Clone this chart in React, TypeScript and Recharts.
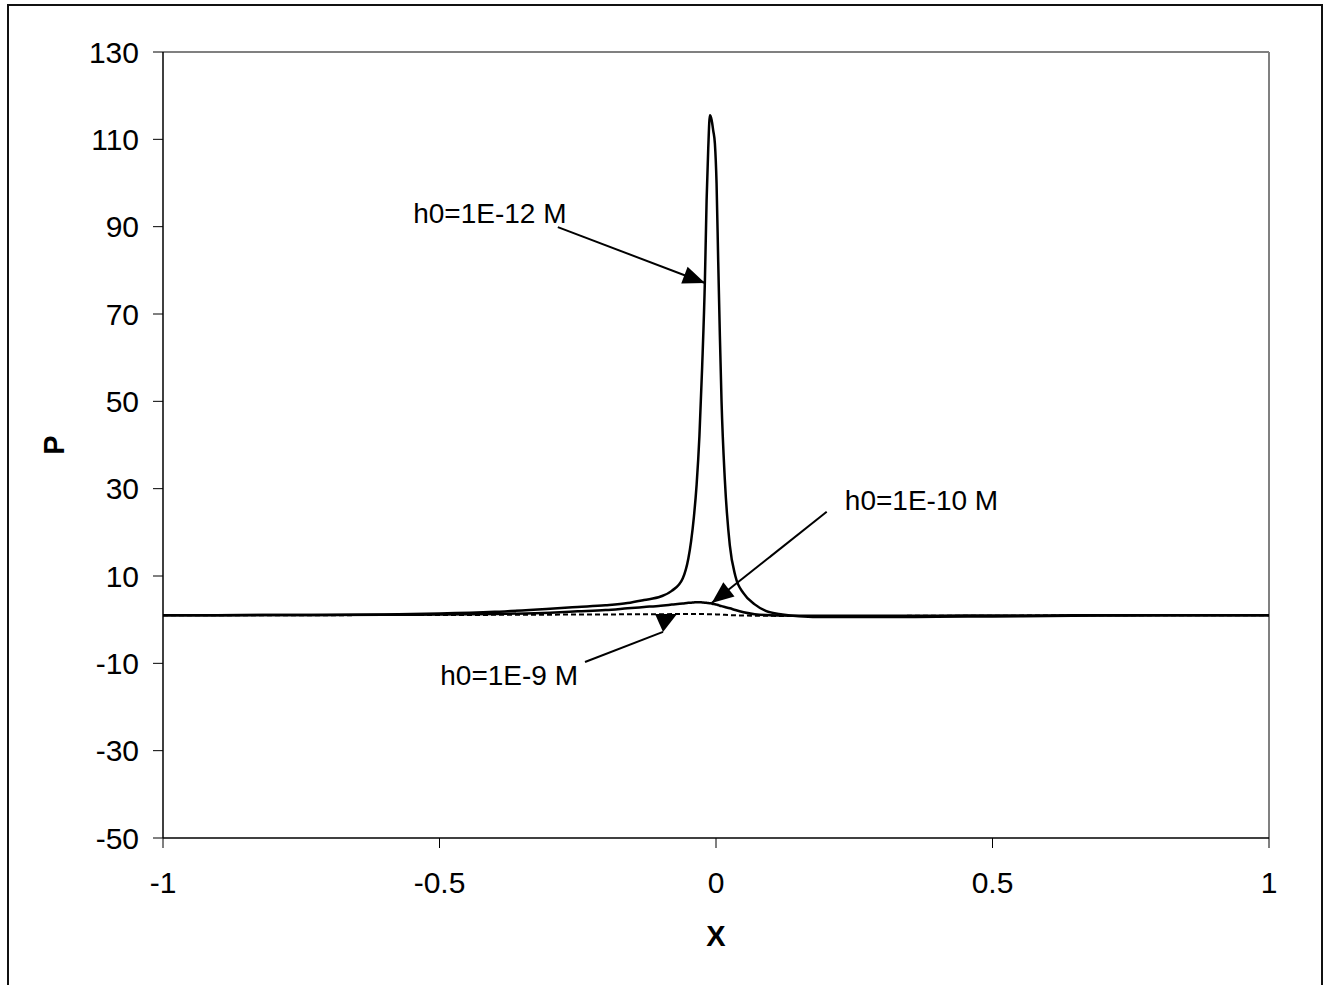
import React from 'react';
import { Line, LineChart, XAxis, YAxis, ReferenceLine, ReferenceDot } from 'recharts';

// x positions (dense around the contact point)
const xs = [
    -1, -0.8, -0.6, -0.5, -0.4, -0.3, -0.25, -0.2, -0.16, -0.13, -0.1, -0.08, -0.06, -0.05, -0.045,
    -0.04, -0.035, -0.03, -0.025, -0.02, -0.017, -0.014, -0.011, -0.008, -0.005, -0.002, 0.001,
    0.004, 0.007, 0.01, 0.016, 0.025, 0.035, 0.05, 0.07, 0.09, 0.12, 0.15, 0.2, 0.3, 0.4, 0.5,
    0.6, 0.7, 0.8, 0.9, 1,
];

const p12 = [
    1.0, 1.05, 1.2, 1.4, 1.8, 2.5, 2.9, 3.3, 3.8, 4.5, 5.3, 6.6, 9.5, 14, 18,
    23.5, 31, 42, 58, 78, 96, 108, 115.5, 114.5, 112, 109, 100,
    82, 65, 50, 32, 17, 10, 6, 3.5, 2, 1.2, 0.8, 0.6, 0.6, 0.65, 0.75,
    0.85, 0.95, 1.0, 1.0, 1.0,
];

const p10 = [
    1.0, 1.05, 1.1, 1.2, 1.3, 1.6, 1.9, 2.2, 2.6, 2.9, 3.2, 3.45, 3.7, 3.85, 3.9,
    3.95, 4.0, 4.0, 3.95, 3.9, 3.85, 3.8, 3.75, 3.7, 3.6, 3.55, 3.45,
    3.35, 3.2, 3.1, 2.9, 2.6, 2.2, 1.7, 1.25, 1.05, 0.95, 0.9, 0.9, 0.9, 0.92, 0.95,
    0.97, 1.0, 1.0, 1.0, 1.0,
];

const p9 = [
    1.0, 1.02, 1.05, 1.07, 1.1, 1.15, 1.17, 1.2, 1.22, 1.24, 1.25, 1.27, 1.28, 1.3, 1.3,
    1.3, 1.3, 1.3, 1.29, 1.28, 1.27, 1.26, 1.25, 1.24, 1.23, 1.22, 1.2,
    1.18, 1.16, 1.14, 1.1, 1.05, 1.0, 0.95, 0.9, 0.88, 0.86, 0.85, 0.85, 0.86, 0.88, 0.9,
    0.95, 1.0, 1.0, 1.0, 1.0,
];

const xTicks = [-1, -0.5, 0, 0.5, 1];
const yTicks = [-50, -30, -10, 10, 30, 50, 70, 90, 110, 130];

const data = xs.map((x, i) => ({ x, p12: p12[i], p10: p10[i], p9: p9[i] }));

// annotations: label, label centre, arrow start, arrow end
const notes = [
    { label: 'h0=1E-12 M', lx: -0.409, ly: 93.1, from: { x: -0.286, y: 89.9 }, to: { x: -0.0199, y: 77.1 }, kind: 'normal' },
    { label: 'h0=1E-10 M', lx: 0.3716, ly: 27.4, from: { x: 0.2002, y: 24.7 }, to: { x: -0.0078, y: 3.8 }, kind: 'normal' },
    { label: 'h0=1E-9 M', lx: -0.374, ly: -12.7, from: { x: -0.2369, y: -9.7 }, to: { x: -0.0958, y: -2.8 }, kind: 'up' },
];

const font = '"Liberation Sans", Arial, sans-serif';

function arrowShape(kind: string) {
    return (props: any) => {
        const { x1, y1, x2, y2 } = props;
        const dx = x2 - x1;
        const dy = y2 - y1;
        const len = Math.sqrt(dx * dx + dy * dy) || 1;
        const ux = dx / len;
        const uy = dy / len;
        let pts: string;
        if (kind === 'up') {
            pts = `${x2},${y2} ${x2 - 8},${y2 - 18} ${x2 + 14},${y2 - 18}`;
        } else {
            const hl = 22;
            const hw = 9;
            const bx = x2 - ux * hl;
            const by = y2 - uy * hl;
            pts = `${x2},${y2} ${bx - uy * hw},${by + ux * hw} ${bx + uy * hw},${by - ux * hw}`;
        }
        return (
            <g>
                <line x1={x1} y1={y1} x2={x2} y2={y2} stroke='#000' strokeWidth={2} />
                <polygon points={pts} fill='#000' />
            </g>
        );
    };
}

export default function App() {
    return (
        <div
            style={{
                position: 'fixed',
                left: 7,
                top: 4,
                width: 1312,
                height: 1000,
                border: '2px solid #111',
                background: '#fff',
                fontFamily: font,
            }}
        >
            <LineChart
                width={1312}
                height={979}
                data={data}
                margin={{ top: 46, right: 52, bottom: 87, left: 54 }}
            >
                <XAxis
                    dataKey='x'
                    type='number'
                    domain={[-1, 1]}
                    ticks={xTicks}
                    height={60}
                    tickSize={10}
                    tickMargin={24}
                    axisLine={{ stroke: '#000', strokeWidth: 1.5 }}
                    tickLine={{ stroke: '#000' }}
                    tick={{ fill: '#000', fontSize: 30, fontFamily: font }}
                    label={{ value: 'X', position: 'bottom', offset: 27, fill: '#000', fontSize: 29, fontWeight: 'bold', fontFamily: font }}
                />
                <YAxis
                    type='number'
                    domain={[-50, 130]}
                    ticks={yTicks}
                    width={100}
                    tickSize={10}
                    tickMargin={14}
                    axisLine={{ stroke: '#000', strokeWidth: 1.5 }}
                    tickLine={{ stroke: '#000' }}
                    tick={{ fill: '#000', fontSize: 30, fontFamily: font }}
                    label={(p: any) => {
                        const vb = p.viewBox;
                        const cx = vb.x - 9;
                        const cy = vb.y + vb.height / 2;
                        return (
                            <text
                                x={cx}
                                y={cy}
                                transform={`rotate(-90 ${cx} ${cy})`}
                                textAnchor='middle'
                                dominantBaseline='central'
                                fontSize={29}
                                fontWeight='bold'
                                fontFamily={font}
                                fill='#000'
                            >
                                P
                            </text>
                        );
                    }}
                />
                <ReferenceLine y={130} stroke='#808080' strokeWidth={2} />
                <ReferenceLine x={1} stroke='#808080' strokeWidth={2} />
                <Line type='monotone' dataKey='p9' stroke='#000' strokeWidth={2} strokeDasharray='5 3' dot={false} isAnimationActive={false} />
                <Line type='monotone' dataKey='p10' stroke='#000' strokeWidth={2.5} dot={false} isAnimationActive={false} />
                <Line type='monotone' dataKey='p12' stroke='#000' strokeWidth={2.5} dot={false} isAnimationActive={false} />
                {notes.map((n) => (
                    <ReferenceLine
                        key={n.label + '-arrow'}
                        segment={[n.from, n.to]}
                        stroke='#000'
                        shape={arrowShape(n.kind)}
                    />
                ))}
                {notes.map((n) => (
                    <ReferenceDot
                        key={n.label}
                        x={n.lx}
                        y={n.ly}
                        r={0}
                        fill='none'
                        stroke='none'
                        label={{ value: n.label, position: 'center', fill: '#000', fontSize: 28, fontFamily: font }}
                    />
                ))}
            </LineChart>
        </div>
    );
}
